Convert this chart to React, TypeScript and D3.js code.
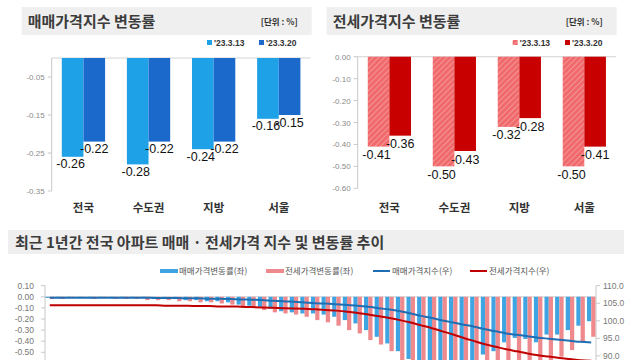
import React from 'react';
import * as d3 from 'd3';

// top panels
const categories = ['전국', '수도권', '지방', '서울'];
const saleMar13 = [-0.26, -0.28, -0.24, -0.16];
const saleMar20 = [-0.22, -0.22, -0.22, -0.15];
const jeonseMar13 = [-0.41, -0.5, -0.32, -0.5];
const jeonseMar20 = [-0.36, -0.43, -0.28, -0.41];
const saleTicks = [-0.05, -0.15, -0.25, -0.35];
const jeonseTicks = [0, -0.1, -0.2, -0.3, -0.4, -0.5, -0.6];
const legendDates = ["'23.3.13", "'23.3.20"];

// bottom panel: 52 weeks, 2022.3 ~ 2023.3.20
const weeklySale = [
  -0.01, -0.01, 0.0, -0.01, -0.01, 0.0, -0.01, -0.01, -0.01, -0.01,
  -0.02, -0.02, -0.02, -0.03, -0.03, -0.04, -0.04, -0.05, -0.07, -0.08,
  -0.09, -0.11, -0.13, -0.14, -0.15, -0.15, -0.16, -0.18, -0.21, -0.24,
  -0.3, -0.36, -0.42, -0.49, -0.56, -0.62, -0.68, -0.73, -0.76, -0.72,
  -0.67, -0.52, -0.49, -0.41, -0.37, -0.38, -0.41, -0.34, -0.34, -0.3,
  -0.26, -0.22,
];
const weeklyJeonse = [
  -0.02, -0.02, -0.01, -0.01, -0.02, -0.01, -0.02, -0.02, -0.02, -0.03,
  -0.03, -0.03, -0.04, -0.04, -0.05, -0.05, -0.06, -0.07, -0.09, -0.1,
  -0.12, -0.14, -0.15, -0.16, -0.18, -0.21, -0.23, -0.26, -0.3, -0.33,
  -0.39, -0.43, -0.49, -0.58, -0.66, -0.74, -0.82, -0.88, -0.94, -0.98,
  -0.96, -0.9, -0.86, -0.8, -0.74, -0.69, -0.62, -0.58, -0.54, -0.48,
  -0.41, -0.36,
];
const saleIndex = [
  106.6, 106.6, 106.6, 106.6, 106.6, 106.6, 106.6, 106.6, 106.6, 106.6,
  106.5, 106.5, 106.5, 106.4, 106.4, 106.3, 106.3, 106.2, 106.1, 106.0,
  105.9, 105.7, 105.6, 105.4, 105.2, 105.0, 104.9, 104.7, 104.5, 104.3,
  104.0, 103.6, 103.2, 102.7, 102.1, 101.4, 100.8, 100.1, 99.5, 98.9,
  98.3, 97.6, 97.0, 96.4, 96.0, 95.6, 95.2, 94.9, 94.6, 94.3,
  94.0, 93.8,
];
const jeonseIndex = [
  104.4, 104.4, 104.4, 104.4, 104.4, 104.4, 104.4, 104.4, 104.4, 104.4,
  104.4, 104.3, 104.3, 104.3, 104.2, 104.2, 104.1, 104.1, 104.0, 103.9,
  103.8, 103.7, 103.6, 103.5, 103.4, 103.3, 103.1, 102.9, 102.6, 102.2,
  101.8, 101.3, 100.8, 100.2, 99.5, 98.7, 97.9, 97.0, 96.1, 95.1,
  94.2, 93.3, 92.6, 91.9, 91.3, 90.7, 90.2, 89.8, 89.4, 89.1,
  88.8, 88.6,
];
// only the ticks that show inside the 360px frame
const leftTicks = [0.1, 0, -0.1, -0.2, -0.3, -0.4, -0.5];
const rightTicks = [110, 105, 100, 95, 90];
const bottomLegend = ['매매가격변동률(좌)', '전세가격변동률(좌)', '매매가격지수(우)', '전세가격지수(우)'];

const KR = "'Noto Sans CJK KR', 'Noto Sans', sans-serif";
const NUM = "'Liberation Sans Narrow', 'Liberation Sans', Arial, sans-serif";

const C = {
  blue1: '#1ea1e6',
  blue2: '#1b6acb',
  red2: '#c80000',
  barBlue: '#3ea4e2',
  barRed: '#ee8a8e',
  lineBlue: '#1f6db3',
  lineRed: '#c00000',
};

interface PanelProps {
  title: string;
  boxX: [number, number];
  axisX: number;
  plotRight: number;
  yTop: number;
  yBottom: number;
  yMin: number;
  ticks: number[];
  v13: number[];
  v20: number[];
  fill13: string;
  fill20: string;
  legendX: [number, number];
  labelGap: number;
}

const Panel: React.FC<PanelProps> = (p) => {
  const x = d3.scaleBand<string>().domain(categories).range([p.axisX, p.plotRight]).paddingInner(0.335).paddingOuter(0.155);
  const sub = d3.scaleBand<string>().domain(['a', 'b']).range([0, x.bandwidth()]);
  const y = d3.scaleLinear().domain([p.yMin, 0]).range([p.yBottom, p.yTop]);
  return (
    <g>
      <rect x={p.boxX[0]} y={7} width={p.boxX[1] - p.boxX[0]} height={28} fill="#efefef" />
      <text x={p.boxX[0] + 6} y={27} fontFamily={KR} fontWeight={700} fontSize={15} fill="#3c3c3c">{p.title}</text>
      <text x={p.boxX[1] - 14} y={25} textAnchor="end" fontFamily={KR} fontWeight={700} fontSize={8.5} fill="#333">[단위 : %]</text>
      {legendDates.map((d, i) => (
        <g key={d} transform={`translate(${p.legendX[i]},0)`}>
          <rect x={0} y={40} width={5} height={5} fill={i === 0 ? p.fill13 : p.fill20} />
          <text x={7} y={46} fontFamily={NUM} fontWeight={700} fontSize={8.5} fill="#333">{d}</text>
        </g>
      ))}
      <line x1={p.axisX} x2={p.axisX} y1={p.yTop} y2={p.yBottom} stroke="#c8c8c8" />
      <line x1={p.axisX} x2={p.plotRight} y1={y(0)} y2={y(0)} stroke="#d4d4d4" />
      {p.ticks.map((t) => (
        <g key={t}>
          <line x1={p.axisX - 4} x2={p.axisX} y1={y(t)} y2={y(t)} stroke="#c8c8c8" />
          <text x={p.axisX - 7} y={y(t) + 3} textAnchor="end" fontFamily={NUM} fontSize={8} fill="#8a8a8a">{t.toFixed(2)}</text>
        </g>
      ))}
      {categories.map((c, i) => {
        const bx = x(c) as number;
        const bw = sub.bandwidth();
        return (
          <g key={c}>
            <rect x={bx + (sub('a') as number)} y={y(0)} width={bw} height={y(p.v13[i]) - y(0)} fill={p.fill13} />
            <rect x={bx + (sub('b') as number)} y={y(0)} width={bw} height={y(p.v20[i]) - y(0)} fill={p.fill20} />
            <text x={bx + (sub('a') as number) + bw / 2 - 2} y={y(p.v13[i]) + p.labelGap} textAnchor="middle" fontFamily={NUM} fontSize={12.5} fill="#111">{p.v13[i].toFixed(2)}</text>
            <text x={bx + (sub('b') as number) + bw / 2} y={y(p.v20[i]) + p.labelGap} textAnchor="middle" fontFamily={NUM} fontSize={12.5} fill="#111">{p.v20[i].toFixed(2)}</text>
            <text x={bx + x.bandwidth() / 2} y={212} textAnchor="middle" fontFamily={KR} fontWeight={700} fontSize={11.5} fill="#333">{c}</text>
          </g>
        );
      })}
    </g>
  );
};

const BottomChart: React.FC = () => {
  const left = 45;
  const right = 596;
  const weeks = d3.range(weeklySale.length);
  const x = d3.scaleBand<number>().domain(weeks).range([left, right]).paddingInner(0.2).paddingOuter(0.05);
  const sub = d3.scaleBand<string>().domain(['s', 'j']).range([0, x.bandwidth()]);
  const yL = d3.scaleLinear().domain([-1.1, 0.1]).range([285.7 + 133.2, 285.7]);
  const yR = d3.scaleLinear().domain([72, 110]).range([285.7 + 133.4, 285.7]);
  const cx = (i: number) => (x(i) as number) + x.bandwidth() / 2;
  const lineS = d3.line<number>().x((_, i) => cx(i)).y((v) => yR(v)).curve(d3.curveMonotoneX);

  const legX = [160, 266, 373, 470];
  return (
    <g>
      <rect x={8} y={230} width={616} height={24} fill="#efefef" />
      <text x={15} y={248} fontFamily={KR} fontWeight={700} fontSize={15} fill="#3c3c3c">최근 1년간 전국 아파트 매매 · 전세가격 지수 및 변동률 추이</text>

      {bottomLegend.map((t, i) => (
        <g key={t}>
          {i < 2 ? (
            <rect x={legX[i]} y={269} width={18} height={4} fill={i === 0 ? C.barBlue : C.barRed} />
          ) : (
            <line x1={legX[i]} x2={legX[i] + 17} y1={271} y2={271} stroke={i === 2 ? C.lineBlue : C.lineRed} strokeWidth={2} />
          )}
          <text x={legX[i] + 19} y={274} fontFamily={KR} fontSize={8.5} fill="#555">{t}</text>
        </g>
      ))}

      <line x1={left} x2={left} y1={yL(0.1)} y2={yL(-1.1)} stroke="#c8c8c8" />
      {leftTicks.map((t) => (
        <g key={t}>
          <line x1={left - 4} x2={left} y1={yL(t)} y2={yL(t)} stroke="#c8c8c8" />
          <text x={34} y={yL(t) + 3} textAnchor="end" fontFamily={NUM} fontSize={8.5} fill="#777">{t.toFixed(2)}</text>
        </g>
      ))}
      <line x1={right} x2={right} y1={yR(110)} y2={yR(72)} stroke="#c8c8c8" />
      {rightTicks.map((t) => (
        <g key={t}>
          <line x1={right} x2={right + 4} y1={yR(t)} y2={yR(t)} stroke="#c8c8c8" />
          <text x={603} y={yR(t) + 3} fontFamily={NUM} fontSize={8.5} fill="#777">{t.toFixed(1)}</text>
        </g>
      ))}
      <line x1={left} x2={right} y1={yL(0)} y2={yL(0)} stroke="#d0d0d0" />

      {weeks.map((i) => (
        <g key={i}>
          <rect x={(x(i) as number) + (sub('s') as number)} y={yL(0)} width={sub.bandwidth()} height={Math.max(0.8, yL(weeklySale[i]) - yL(0))} fill={C.barBlue} />
          <rect x={(x(i) as number) + (sub('j') as number)} y={yL(0)} width={sub.bandwidth()} height={Math.max(0.8, yL(weeklyJeonse[i]) - yL(0))} fill={C.barRed} />
        </g>
      ))}

      <path d={lineS(jeonseIndex) as string} fill="none" stroke={C.lineRed} strokeWidth={2} />
      <path d={lineS(saleIndex) as string} fill="none" stroke={C.lineBlue} strokeWidth={2} />
    </g>
  );
};

export default function App() {
  return (
    <svg width={640} height={360} style={{ position: 'fixed', left: 0, top: 0, background: '#fff' }}>
      <defs>
        <pattern id="hatch" width={4} height={4} patternUnits="userSpaceOnUse" patternTransform="rotate(45)">
          <rect width={4} height={4} fill="#f06a6c" />
          <line x1={0} y1={0} x2={0} y2={4} stroke="#f7a2a4" strokeWidth={1.5} />
        </pattern>
      </defs>
      <Panel
        title="매매가격지수 변동률"
        boxX={[21.7, 311.7]}
        axisX={51.7}
        plotRight={310.5}
        yTop={58}
        yBottom={191}
        yMin={-0.35}
        ticks={saleTicks}
        v13={saleMar13}
        v20={saleMar20}
        fill13={C.blue1}
        fill20={C.blue2}
        legendX={[207, 259]}
        labelGap={11.5}
      />
      <Panel
        title="전세가격지수 변동률"
        boxX={[326.7, 616.7]}
        axisX={357.7}
        plotRight={616}
        yTop={56.7}
        yBottom={188.3}
        yMin={-0.6}
        ticks={jeonseTicks}
        v13={jeonseMar13}
        v20={jeonseMar20}
        fill13="url(#hatch)"
        fill20={C.red2}
        legendX={[512.7, 565]}
        labelGap={12.5}
      />
      <BottomChart />
    </svg>
  );
}
